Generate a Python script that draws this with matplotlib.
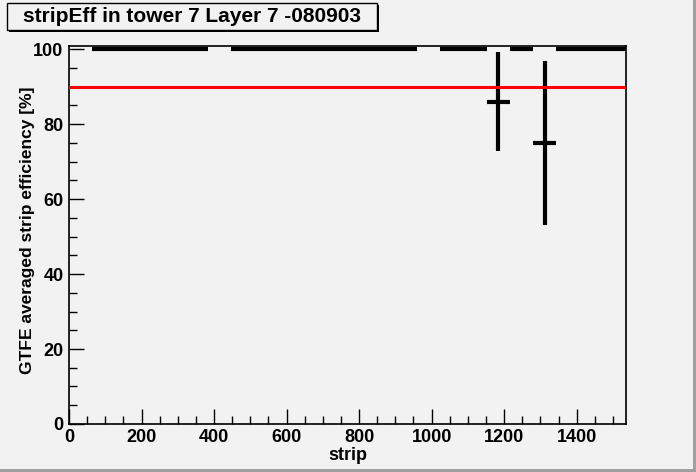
import numpy as np
import matplotlib
matplotlib.use("Agg")
import matplotlib.pyplot as plt
from matplotlib.patches import Rectangle
from matplotlib.ticker import MultipleLocator

# 24 chips x 64 strips; NaN = no data for that chip
bin_width = 64
eff = [np.nan, 100, 100, 100, 100, 100, np.nan, 100, 100, 100, 100, 100,
       100, 100, 100, np.nan, 100, 100, 85.9, 100, 75.0, 100, 100, 100]
eff_err = [0, 0, 0, 0, 0, 0, 0, 0, 0, 0, 0, 0,
           0, 0, 0, 0, 0, 0, 13.2, 0, 21.9, 0, 0, 0]
threshold = 90
title = "stripEff in tower 7 Layer 7 -080903"

plt.rcParams["font.family"] = ["Liberation Sans", "DejaVu Sans"]
plt.rcParams["font.weight"] = "bold"

bg = "#f2f2f2"
fig = plt.figure(figsize=(6.96, 4.72), dpi=100, facecolor=bg)
ax = fig.add_axes([0.0991, 0.1017, 0.8003, 0.8008], facecolor=bg)

eff = np.array(eff, dtype=float)
eff_err = np.array(eff_err, dtype=float)
x = np.arange(len(eff)) * bin_width + bin_width / 2
ok = ~np.isnan(eff)
ax.errorbar(x[ok], eff[ok], yerr=eff_err[ok], xerr=bin_width / 2,
            fmt="none", ecolor="black", elinewidth=3.0, capsize=0,
            zorder=3)
ax.axhline(threshold, color="#ff0000", linewidth=2.2, zorder=4)

ax.set_xlim(0, 1536)
ax.set_ylim(0, 100.8)
ax.xaxis.set_major_locator(MultipleLocator(200))
ax.xaxis.set_minor_locator(MultipleLocator(50))
ax.yaxis.set_major_locator(MultipleLocator(20))
ax.yaxis.set_minor_locator(MultipleLocator(5))
ax.tick_params(which="both", direction="in", top=False, right=False,
               width=1.0, labelsize=13)
ax.tick_params(which="major", length=11)
ax.tick_params(which="minor", length=5.5)
ax.tick_params(axis="x", pad=3.5)
ax.tick_params(axis="y", pad=4)
for s in ax.spines.values():
    s.set_linewidth(1.2)

ax.set_xlabel("strip", fontsize=13, fontweight="bold", labelpad=1)
ax.set_ylabel("GTFE averaged strip efficiency [%]", fontsize=12.5,
              fontweight="bold")
ax.yaxis.set_label_coords(-0.061, 0.512)

# title box with shadow
fig.patches.append(Rectangle((9 / 696, 1 - 32 / 472), 370 / 696, 27 / 472,
                             transform=fig.transFigure, facecolor="black",
                             edgecolor="none", zorder=1))
fig.patches.append(Rectangle((7 / 696, 1 - 30 / 472), 370 / 696, 27 / 472,
                             transform=fig.transFigure, facecolor=bg,
                             edgecolor="black", linewidth=1.0, zorder=2))
fig.text(192 / 696, 1 - 17 / 472, title, ha="center", va="center",
         fontsize=15, fontweight="bold", zorder=3)

# canvas border (right / bottom)
fig.patches.append(Rectangle((693 / 696, 0), 3 / 696, 1,
                             transform=fig.transFigure, facecolor="#a0a0a0",
                             edgecolor="none"))
fig.patches.append(Rectangle((0, 0), 1, 3 / 472,
                             transform=fig.transFigure, facecolor="#a0a0a0",
                             edgecolor="none"))

fig.savefig("out.png", dpi=100, facecolor=bg)
